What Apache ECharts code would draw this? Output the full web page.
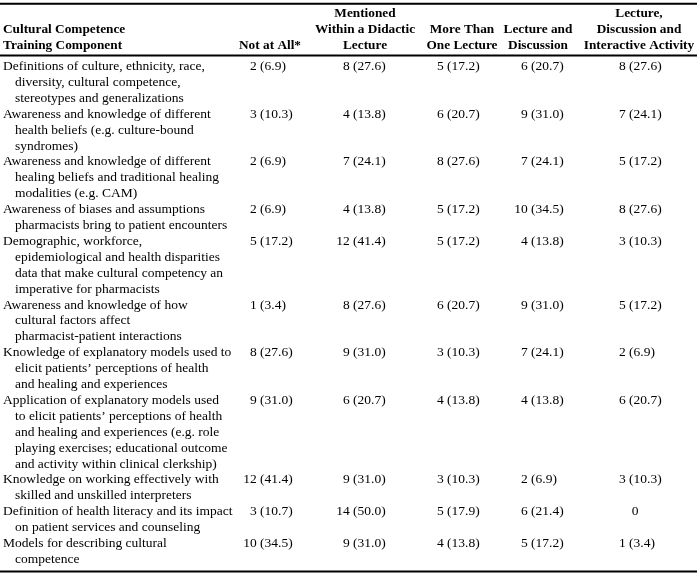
<!DOCTYPE html>
<html><head><meta charset="utf-8">
<script src="https://cdn.jsdelivr.net/npm/echarts@6/dist/echarts.min.js"></script>
<style>html,body{margin:0;padding:0;background:#fff}#c{width:699px;height:576px}</style>
</head><body><div id="c"></div>
<script>
// ---- data ----
const headers = [
  ['Cultural Competence', 'Training Component'],
  ['Not at All*'],
  ['Mentioned', 'Within a Didactic', 'Lecture'],
  ['More Than', 'One Lecture'],
  ['Lecture and', 'Discussion'],
  ['Lecture,', 'Discussion and', 'Interactive Activity']
];
const components = [
  ['Definitions of culture, ethnicity, race,', 'diversity, cultural competence,', 'stereotypes and generalizations'],
  ['Awareness and knowledge of different', 'health beliefs (e.g. culture-bound', 'syndromes)'],
  ['Awareness and knowledge of different', 'healing beliefs and traditional healing', 'modalities (e.g. CAM)'],
  ['Awareness of biases and assumptions', 'pharmacists bring to patient encounters'],
  ['Demographic, workforce,', 'epidemiological and health disparities', 'data that make cultural competency an', 'imperative for pharmacists'],
  ['Awareness and knowledge of how', 'cultural factors affect', 'pharmacist-patient interactions'],
  ['Knowledge of explanatory models used to', 'elicit patients\u2019 perceptions of health', 'and healing and experiences'],
  ['Application of explanatory models used', 'to elicit patients\u2019 perceptions of health', 'and healing and experiences (e.g. role', 'playing exercises; educational outcome', 'and activity within clinical clerkship)'],
  ['Knowledge on working effectively with', 'skilled and unskilled interpreters'],
  ['Definition of health literacy and its impact', 'on patient services and counseling'],
  ['Models for describing cultural', 'competence']
];
const notAtAllN      = [2, 3, 2, 2, 5, 1, 8, 9, 12, 3, 10];
const notAtAllPct    = [6.9, 10.3, 6.9, 6.9, 17.2, 3.4, 27.6, 31.0, 41.4, 10.7, 34.5];
const didacticN      = [8, 4, 7, 4, 12, 8, 9, 6, 9, 14, 9];
const didacticPct    = [27.6, 13.8, 24.1, 13.8, 41.4, 27.6, 31.0, 20.7, 31.0, 50.0, 31.0];
const multiLectureN  = [5, 6, 8, 5, 5, 6, 3, 4, 3, 5, 4];
const multiLecturePct= [17.2, 20.7, 27.6, 17.2, 17.2, 20.7, 10.3, 13.8, 10.3, 17.9, 13.8];
const lectDiscN      = [6, 9, 7, 10, 4, 9, 7, 4, 2, 6, 5];
const lectDiscPct    = [20.7, 31.0, 24.1, 34.5, 13.8, 31.0, 24.1, 13.8, 6.9, 21.4, 17.2];
const interactiveN   = [8, 7, 5, 8, 3, 5, 2, 6, 3, 0, 1];
const interactivePct = [27.6, 24.1, 17.2, 27.6, 10.3, 17.2, 6.9, 20.7, 10.3, null, 3.4];

const countCols = [notAtAllN, didacticN, multiLectureN, lectDiscN, interactiveN];
const pctCols = [notAtAllPct, didacticPct, multiLecturePct, lectDiscPct, interactivePct];

// ---- layout / style ----
const W = 699, H = 576;
const firstLineY = 66.5, lineH = 15.9;
const labelX = 3, indentX = 15;
const countRight = [256.7, 349.7, 443.7, 527.7, 625.7];
const headerCenter = [270, 365, 462, 538, 639];
const pctGap = 3.4;
const FONT = '13.5px "Liberation Serif", "Times New Roman", serif';
const BFONT = 'bold 13.3px "Liberation Serif", "Times New Roman", serif';
const headerLines = 3;

// row start line indexes
const rowStart = [];
let acc = 0;
components.forEach(c => { rowStart.push(acc); acc += c.length; });
const totalLines = acc;

const rules = [
  [-headerLines - 0.95, 2],
  [-0.69, 2],
  [totalLines - 1 + 0.76, 2]
];

function txt(p, text, font, align) {
  return { type: 'text', x: p[0], y: p[1],
    style: { text: text, font: font, fill: '#000', align: align, verticalAlign: 'middle' } };
}

const chart = echarts.init(document.getElementById('c'), null, { renderer: 'canvas' });
chart.setOption({
  animation: false,
  backgroundColor: '#fff',
  grid: { left: 0, right: 0, top: 0, bottom: 0 },
  xAxis: { type: 'value', min: 0, max: W, show: false },
  yAxis: { type: 'value', inverse: true, min: -firstLineY / lineH, max: (H - firstLineY) / lineH, show: false },
  series: [
    {
      type: 'custom', silent: true, clip: false,
      data: rules.map(r => [0, r[0], r[1]]),
      renderItem: function (params, api) {
        const a = api.coord([0, api.value(1)]);
        const b = api.coord([W - 2, api.value(1)]);
        return { type: 'line', shape: { x1: a[0], y1: a[1], x2: b[0], y2: b[1] },
          style: { stroke: '#000', lineWidth: api.value(2) } };
      }
    },
    {
      type: 'custom', silent: true, clip: false,
      data: headers.map((h, i) => [i, 0]),
      renderItem: function (params, api) {
        const ci = api.value(0);
        const lines = headers[ci];
        const children = lines.map((t, k) => {
          const slot = headerLines - lines.length + k;
          const y = -(headerLines - slot) - 0.3;
          if (ci === 0) return txt(api.coord([labelX, y]), t, BFONT, 'left');
          return txt(api.coord([headerCenter[ci - 1], y]), t, BFONT, 'center');
        });
        return { type: 'group', children: children };
      }
    },
    {
      type: 'custom', silent: true, clip: false,
      data: components.map((c, i) => [i, rowStart[i]]),
      renderItem: function (params, api) {
        const r = api.value(0);
        const start = api.value(1);
        const children = components[r].map((t, k) =>
          txt(api.coord([k === 0 ? labelX : indentX, start + k]), t, FONT, 'left'));
        for (let c = 0; c < countCols.length; c++) {
          const n = countCols[c][r];
          const p = pctCols[c][r];
          if (p === null) {
            children.push(txt(api.coord([headerCenter[c] - 4, start]), String(n), FONT, 'center'));
          } else {
            children.push(txt(api.coord([countRight[c], start]), String(n), FONT, 'right'));
            children.push(txt(api.coord([countRight[c] + pctGap, start]), '(' + p.toFixed(1) + ')', FONT, 'left'));
          }
        }
        return { type: 'group', children: children };
      }
    }
  ]
});
</script>
</body></html>
